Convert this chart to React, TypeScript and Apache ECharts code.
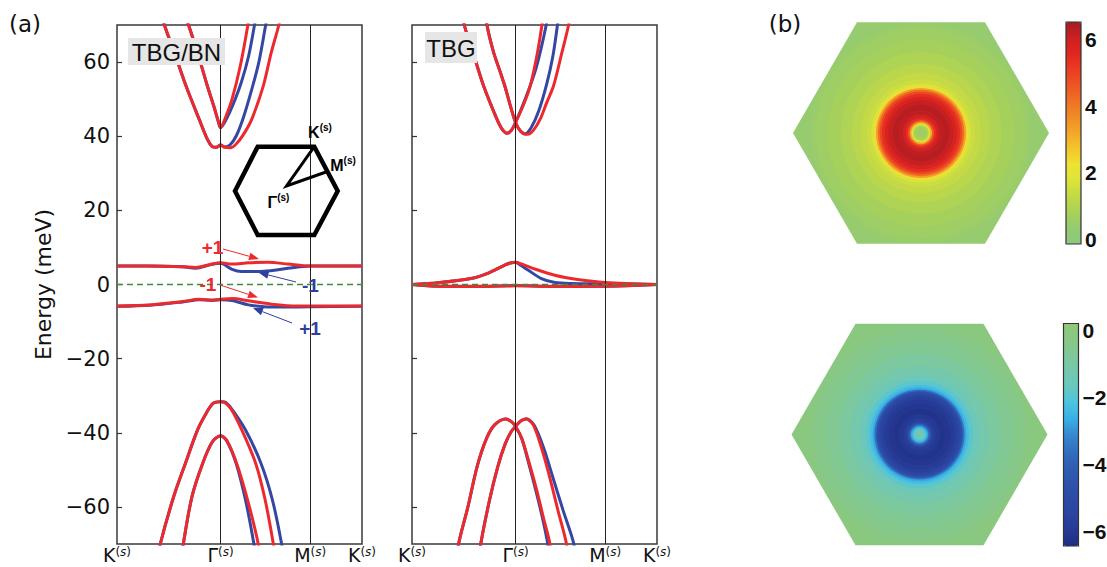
import React, { useEffect, useRef } from 'react';
import * as echarts from 'echarts';

// ---------- axis ticks / labels ----------
const K_TICKS = [0, 1, 1.866, 2.366];
const K_LABELS = ['K', 'Γ', 'M', 'K'];
const E_TICKS = [-60, -40, -20, 0, 20, 40, 60];
const CB_TOP_TICKS = [0, 2, 4, 6];
const CB_BOT_TICKS = [-6, -4, -2, 0];

// ---------- TBG/BN bands [k, E(meV)] ----------
const bnCondRedInner = [[0.62, 76], [0.691, 70], [0.777, 62.6], [0.872, 53.6], [0.936, 48], [0.975, 44.3], [1.0, 42.3], [1.04, 44.5], [1.111, 50], [1.191, 59], [1.264, 70], [1.29, 75]];
const bnCondBlueInner = [[0.62, 76], [0.691, 70], [0.777, 62.6], [0.872, 53.6], [0.936, 48], [0.975, 44.3], [1.0, 42.3], [1.05, 44.3], [1.12, 48.5], [1.2, 54.5], [1.27, 61.5], [1.328, 70], [1.36, 75]];
const bnCondRedOuter = [[0.4, 76], [0.458, 70], [0.554, 62.6], [0.666, 53.6], [0.793, 44.6], [0.872, 39.2], [0.92, 37.2], [0.96, 37.0], [1.0, 37.6], [1.04, 37.0], [1.1, 36.9], [1.17, 38.5], [1.24, 41.3], [1.302, 44.6], [1.413, 53.6], [1.49, 62.6], [1.563, 70], [1.6, 75]];
const bnCondBlueOuter = [[0.4, 76], [0.458, 70], [0.554, 62.6], [0.666, 53.6], [0.793, 44.6], [0.872, 39.2], [0.92, 37.2], [0.96, 37.0], [1.0, 37.6], [1.04, 37.1], [1.09, 37.6], [1.15, 40], [1.22, 45], [1.3, 52.5], [1.37, 60], [1.436, 70], [1.47, 75]];
const bnValRedOuter = [[0.38, -76], [0.418, -70], [0.55, -57], [0.661, -48.2], [0.778, -39.2], [0.862, -34.7], [0.93, -32], [1.0, -31.6], [1.04, -31.8], [1.1, -33.5], [1.205, -39.2], [1.339, -48.2], [1.43, -58], [1.51, -70], [1.54, -76]];
const bnValBlueOuter = [[0.38, -76], [0.418, -70], [0.55, -57], [0.661, -48.2], [0.778, -39.2], [0.862, -34.7], [0.93, -32], [1.0, -31.6], [1.04, -31.7], [1.1, -33.3], [1.24, -39.2], [1.39, -48.2], [1.5, -58], [1.59, -70], [1.62, -76]];
const bnValRedInner = [[0.61, -76], [0.64, -70], [0.724, -57.2], [0.828, -48.2], [0.92, -42.5], [1.0, -40.8], [1.06, -42], [1.155, -48.2], [1.26, -58], [1.364, -70], [1.39, -76]];
const bnValBlueInner = [[0.61, -76], [0.64, -70], [0.724, -57.2], [0.828, -48.2], [0.92, -42.5], [1.0, -40.8], [1.06, -42.2], [1.15, -48.2], [1.24, -58], [1.322, -70], [1.35, -76]];
const bnFlatUpRed = [[0, 5.0], [0.3, 5.0], [0.634, 4.8], [0.761, 4.6], [0.898, 5.4], [1.0, 5.85], [1.111, 5.5], [1.27, 5.85], [1.461, 6.0], [1.652, 5.5], [1.866, 5.0], [2.366, 5.0]];
const bnFlatUpBlue = [[0, 5.0], [0.3, 5.0], [0.634, 4.8], [0.761, 4.4], [0.898, 5.3], [1.0, 5.7], [1.111, 4.1], [1.2, 3.5], [1.42, 3.6], [1.65, 4.36], [1.866, 5.0], [2.366, 5.0]];
const bnFlatLoRed = [[0, -5.8], [0.315, -5.5], [0.634, -4.6], [0.795, -4.0], [0.92, -4.2], [1.0, -4.0], [1.111, -3.8], [1.27, -4.4], [1.493, -5.3], [1.748, -5.8], [1.866, -5.8], [2.366, -5.8]];
const bnFlatLoBlue = [[0, -5.9], [0.315, -5.6], [0.634, -4.7], [0.795, -4.1], [0.92, -4.3], [1.0, -4.1], [1.111, -4.3], [1.27, -5.5], [1.42, -6.0], [1.59, -6.1], [1.866, -6.0], [2.366, -5.9]];

// ---------- TBG bands ----------
const tbgCondRed1 = [[0.47, 76], [0.505, 70], [0.589, 62.6], [0.691, 53.6], [0.82, 44.6], [0.87, 41.9], [0.917, 40.8], [0.96, 41.6], [1.0, 43.7], [1.07, 48], [1.142, 53.6], [1.212, 62.6], [1.255, 70], [1.28, 75]];
const tbgCondBlue1 = [[0.47, 76], [0.505, 70], [0.589, 62.6], [0.691, 53.6], [0.82, 44.6], [0.87, 41.9], [0.917, 40.8], [0.96, 41.6], [1.0, 43.7], [1.1, 50.5], [1.2, 58.5], [1.296, 70], [1.32, 75]];
const tbgCondRed2 = [[0.7, 76], [0.724, 70], [0.788, 62.6], [0.85, 57.5], [0.9, 53.2], [0.95, 48.2], [1.0, 43.7], [1.05, 41.3], [1.116, 40.5], [1.17, 41.5], [1.238, 44.6], [1.3, 49], [1.367, 53.6], [1.448, 62.6], [1.512, 70], [1.54, 75]];
const tbgCondBlue2 = [[0.7, 76], [0.724, 70], [0.788, 62.6], [0.85, 57.5], [0.9, 53.2], [0.95, 48.2], [1.0, 43.7], [1.05, 41.3], [1.09, 40.6], [1.15, 42.3], [1.22, 46.5], [1.3, 54], [1.36, 61.5], [1.405, 70], [1.43, 75]];
const tbgValRed1 = [[0.43, -76], [0.45, -70], [0.54, -60], [0.63, -49], [0.72, -41.5], [0.8, -37.8], [0.903, -36.3], [0.96, -37], [1.0, -38.3], [1.06, -41.5], [1.12, -47], [1.2, -55], [1.27, -63], [1.332, -70], [1.35, -76]];
const tbgValBlue1 = [[0.43, -76], [0.45, -70], [0.54, -60], [0.63, -49], [0.72, -41.5], [0.8, -37.8], [0.903, -36.3], [0.96, -37], [1.0, -38.3], [1.06, -41.6], [1.12, -47.5], [1.2, -56], [1.26, -63], [1.311, -70], [1.33, -76]];
const tbgValRed2 = [[0.64, -76], [0.664, -70], [0.75, -58], [0.83, -49], [0.9, -43], [0.96, -39.6], [1.0, -38.3], [1.05, -36.8], [1.105, -36.3], [1.17, -37.8], [1.25, -44], [1.33, -52], [1.41, -61], [1.492, -70], [1.51, -76]];
const tbgValBlue2 = [[0.64, -76], [0.664, -70], [0.75, -58], [0.83, -49], [0.9, -43], [0.96, -39.6], [1.0, -38.3], [1.05, -36.8], [1.105, -36.2], [1.18, -38], [1.27, -44], [1.36, -52], [1.46, -61], [1.563, -70], [1.58, -76]];
const tbgFlatUpRed = [[0, 0], [0.25, 0.45], [0.57, 1.6], [0.73, 3.0], [0.9, 5.3], [0.95, 5.8], [1.0, 6.0], [1.05, 5.6], [1.154, 4.5], [1.38, 2.5], [1.6, 1.35], [1.866, 0.54], [2.366, 0]];
const tbgFlatUpBlue = [[0, 0], [0.25, 0.45], [0.57, 1.6], [0.73, 3.0], [0.9, 5.3], [0.95, 5.8], [1.0, 6.0], [1.05, 5.2], [1.12, 3.9], [1.25, 1.6], [1.38, 0.54], [1.54, 0.27], [1.866, 0.2], [2.366, 0]];
const tbgFlatLoRed = [[0, 0], [0.25, -0.5], [0.6, -0.55], [1.0, -0.35], [1.4, -0.55], [1.866, -0.5], [2.366, 0]];
const tbgFlatLoBlue = [[0, 0], [0.25, -0.45], [0.6, -0.5], [1.0, -0.3], [1.4, -0.5], [1.866, -0.45], [2.366, 0]];

// ---------- Berry curvature radial profiles (r in units of BZ corner distance) ----------
const topRadius = [0, 0.035, 0.055, 0.068, 0.08, 0.095, 0.11, 0.13, 0.16, 0.2, 0.24, 0.27, 0.295, 0.315, 0.33, 0.345, 0.36, 0.375, 0.4, 0.44, 0.5, 0.58, 0.68, 0.78, 0.86];
const topValue = [0.5, 0.6, 0.9, 1.8, 3.2, 4.6, 5.4, 5.9, 6.2, 6.3, 6.1, 5.8, 5.4, 4.9, 4.2, 3.3, 2.3, 1.7, 1.45, 1.3, 1.1, 0.92, 0.72, 0.56, 0.45];
const topEdgeValue = 0.35;
const botRadius = [0, 0.035, 0.05, 0.062, 0.075, 0.09, 0.11, 0.14, 0.18, 0.22, 0.26, 0.29, 0.31, 0.33, 0.345, 0.36, 0.375, 0.4, 0.44, 0.5, 0.58, 0.68, 0.78, 0.86];
const botValue = [-1.3, -1.5, -2.2, -2.8, -3.8, -5.0, -5.7, -6.0, -6.2, -6.1, -5.9, -5.6, -5.3, -4.8, -3.6, -2.7, -2.3, -1.9, -1.5, -1.15, -0.85, -0.55, -0.35, -0.2];
const botEdgeValue = -0.08;

const TOP_RANGE = [-0.15, 6.53];
const BOT_RANGE = [-6.43, 0.22];
const TOP_COLORS = ['#8cc97b', '#95cb70', '#a9d158', '#c3d946', '#dde43a', '#efe234', '#f4c62c', '#f3a729', '#f18c26', '#ef7124', '#ed5624', '#ea3d22', '#e22620', '#cb2022', '#a51c21'];
const BOT_COLORS = ['#1f2d84', '#263a95', '#2a449f', '#2b4ba6', '#2d54ad', '#2f5eb5', '#3270c0', '#3688d0', '#38b0e6', '#4cc4e0', '#68c8bf', '#74c8ad', '#7fc89a', '#88c885', '#90c876'];

const RED = '#ec2a2e';
const BLUE = '#3447a3';
const BLUE_TXT = '#2e3f9e';
const SANS = 'DejaVu Sans';
const ARIAL = 'Liberation Sans';

const fmtMinus = (v: number) => (v < 0 ? '\u2212' + Math.abs(v) : String(v));

function kLabel(v: number) {
  let idx = 0;
  let best = 1e9;
  K_TICKS.forEach((t, i) => {
    if (Math.abs(t - v) < best) { best = Math.abs(t - v); idx = i; }
  });
  return `{m|${K_LABELS[idx]}}{p|(}{i|s}{p|)}`;
}

const kRich = {
  m: { fontSize: 19, fontFamily: SANS, color: '#111', lineHeight: 18, verticalAlign: 'bottom' },
  p: { fontSize: 12, fontFamily: SANS, color: '#111', verticalAlign: 'top', lineHeight: 18 },
  i: { fontSize: 12, fontFamily: SANS, color: '#111', fontStyle: 'italic', verticalAlign: 'top', lineHeight: 18 },
};

function ringData(radii: number[], vals: number[]) {
  // disks drawn from outside to inside
  const items = radii.map((r, i) => {
    const outer = i === radii.length - 1 ? r : (r + radii[i + 1]) / 2;
    return [outer, 0, vals[i]];
  });
  return items.reverse();
}

function arrowEls(from: number[], to: number[], color: string) {
  const [x1, y1] = from;
  const [x2, y2] = to;
  const a = Math.atan2(y2 - y1, x2 - x1);
  const L = 10, W = 3.8;
  const bx = x2 - L * Math.cos(a);
  const by = y2 - L * Math.sin(a);
  return [
    { type: 'line', shape: { x1, y1, x2: bx, y2: by }, style: { stroke: color, lineWidth: 1 }, z: 100 },
    {
      type: 'polygon',
      shape: { points: [[x2, y2], [bx + W * Math.sin(a), by - W * Math.cos(a)], [bx - W * Math.sin(a), by + W * Math.cos(a)]] },
      style: { fill: color },
      z: 100,
    },
  ];
}

function txt(text: string, x: number, y: number, fontSize: number, fill: string, extra: any = {}) {
  return {
    type: 'text',
    x,
    y,
    z: 101,
    style: {
      text,
      fontSize,
      fontFamily: extra.fontFamily || ARIAL,
      fontWeight: extra.fontWeight || 'normal',
      fill,
      align: extra.align || 'center',
      textAlign: extra.align || 'center',
      verticalAlign: 'middle',
      textVerticalAlign: 'middle',
      rich: extra.rich,
    },
  };
}

const ANNOTS = [
  { text: '+1', color: RED, tx: 212.5, ty: 247.5, from: [223, 249], to: [259, 259] },
  { text: '-1', color: RED, tx: 208, ty: 284.5, from: [220, 285], to: [258, 297.5] },
  { text: '-1', color: BLUE_TXT, tx: 310.5, ty: 285.5, from: [296, 282], to: [258.5, 272.5] },
  { text: '+1', color: BLUE_TXT, tx: 310, ty: 328.5, from: [292, 323], to: [253, 308] },
];

const INSET_HEX = [[257.7, 146.7], [314.3, 146.7], [337.7, 191], [314.3, 235], [257.7, 235], [235, 191]];

export default function App() {
  const ref = useRef<HTMLDivElement>(null);

  useEffect(() => {
    if (!ref.current) return;
    const chart = echarts.init(ref.current, undefined, { renderer: 'svg' });

    const bandGrid = (left: number) => ({
      left, top: 25, width: 245, height: 519, show: true, borderColor: '#3a3a3a', borderWidth: 1.5,
      backgroundColor: 'transparent', containLabel: false, outerBoundsMode: 'none',
    });
    const plainGrid = (left: number, top: number, w: number, h: number) => ({
      left, top, width: w, height: h, show: false, containLabel: false, outerBoundsMode: 'none',
    });

    const xBand = (g: number) => ({
      type: 'value', gridIndex: g, min: 0, max: 2.366,
      axisLine: { show: false }, axisTick: { show: false }, splitLine: { show: false },
      axisLabel: {
        show: true, customValues: K_TICKS, formatter: (v: number) => kLabel(v), margin: 2, rich: kRich,
        showMinLabel: true, showMaxLabel: true,
      },
    });
    const yBand = (g: number, labels: boolean) => ({
      type: 'value', gridIndex: g, min: -70, max: 70,
      axisLine: { show: false },
      splitLine: { show: false },
      axisTick: { show: true, inside: true, length: 5, customValues: E_TICKS, lineStyle: { color: '#333', width: 1.2 } },
      axisLabel: {
        show: labels, customValues: E_TICKS, formatter: fmtMinus, fontSize: 21, fontFamily: SANS, color: '#111', margin: 7,
      },
      name: labels ? 'Energy (meV)' : '',
      nameLocation: 'middle',
      nameGap: 63,
      nameTextStyle: { fontSize: 22, fontFamily: SANS, color: '#111' },
    });
    const hidden = (g: number, min: number, max: number) => ({ type: 'value', gridIndex: g, min, max, show: false });

    const band = (data: number[][], color: string, g: number) => ({
      type: 'line', xAxisIndex: g, yAxisIndex: g, data, smooth: 0.3, showSymbol: false, symbol: 'none',
      lineStyle: { width: 3, color }, itemStyle: { color }, clip: true, silent: true, z: 3,
    });
    const helper = (g: number) => ({
      type: 'line', xAxisIndex: g, yAxisIndex: g, data: [[0, 0]], symbol: 'none', showSymbol: false,
      lineStyle: { opacity: 0 }, silent: true, z: 2,
      markLine: {
        silent: true, symbol: 'none', label: { show: false }, animation: false,
        data: [
          { xAxis: 1, lineStyle: { color: '#222', width: 1, type: 'solid' } },
          { xAxis: 1.866, lineStyle: { color: '#222', width: 1, type: 'solid' } },
          { yAxis: 0, lineStyle: { color: '#3d8b3d', width: 1.3, type: [6, 4] } },
        ],
      },
    });

    const hexRender = (params: any, api: any) => {
      const pts = [0, 60, 120, 180, 240, 300].map((d) => {
        const a = (d * Math.PI) / 180;
        return api.coord([Math.cos(a), Math.sin(a)]);
      });
      return { type: 'polygon', shape: { points: pts }, style: { fill: api.visual('color') } };
    };
    const diskRender = (params: any, api: any) => {
      const c = api.coord([0, 0]);
      const r = api.size([api.value(0), 0])[0];
      return { type: 'circle', shape: { cx: c[0], cy: c[1], r }, style: { fill: api.visual('color') } };
    };

    const series: any[] = [
      helper(0),
      band(bnCondBlueInner, BLUE, 0), band(bnCondBlueOuter, BLUE, 0),
      band(bnValBlueOuter, BLUE, 0), band(bnValBlueInner, BLUE, 0),
      band(bnFlatUpBlue, BLUE, 0), band(bnFlatLoBlue, BLUE, 0),
      band(bnCondRedInner, RED, 0), band(bnCondRedOuter, RED, 0),
      band(bnValRedOuter, RED, 0), band(bnValRedInner, RED, 0),
      band(bnFlatUpRed, RED, 0), band(bnFlatLoRed, RED, 0),
      helper(1),
      band(tbgCondBlue1, BLUE, 1), band(tbgCondBlue2, BLUE, 1),
      band(tbgValBlue1, BLUE, 1), band(tbgValBlue2, BLUE, 1),
      band(tbgFlatUpBlue, BLUE, 1), band(tbgFlatLoBlue, BLUE, 1),
      band(tbgCondRed1, RED, 1), band(tbgCondRed2, RED, 1),
      band(tbgValRed1, RED, 1), band(tbgValRed2, RED, 1),
      band(tbgFlatUpRed, RED, 1), band(tbgFlatLoRed, RED, 1),
    ];
    const topHexIdx = series.length;
    series.push({ type: 'custom', xAxisIndex: 2, yAxisIndex: 2, data: [[0, 0, topEdgeValue]], renderItem: hexRender, silent: true, z: 1 });
    const topRingIdx = series.length;
    series.push({ type: 'custom', xAxisIndex: 2, yAxisIndex: 2, data: ringData(topRadius, topValue), renderItem: diskRender, silent: true, z: 2 });
    const botHexIdx = series.length;
    series.push({ type: 'custom', xAxisIndex: 3, yAxisIndex: 3, data: [[0, 0, botEdgeValue]], renderItem: hexRender, silent: true, z: 1 });
    const botRingIdx = series.length;
    series.push({ type: 'custom', xAxisIndex: 3, yAxisIndex: 3, data: ringData(botRadius, botValue), renderItem: diskRender, silent: true, z: 2 });

    const cbAxis = (g: number, range: number[], ticks: number[]) => ({
      type: 'value', gridIndex: g, min: range[0], max: range[1], position: 'right',
      axisLine: { show: false }, splitLine: { show: false },
      axisTick: { show: true, inside: false, length: 3, customValues: ticks, lineStyle: { color: '#333', width: 1.2 } },
      axisLabel: {
        show: true, customValues: ticks, formatter: fmtMinus, fontSize: 21, fontWeight: 'bold',
        fontFamily: ARIAL, color: '#111', margin: 4,
      },
    });

    const insetRich = {
      b: { fontSize: 16, fontWeight: 'bold', fontFamily: ARIAL, verticalAlign: 'bottom', lineHeight: 18 },
      s: { fontSize: 10, fontWeight: 'bold', fontFamily: ARIAL, verticalAlign: 'top', lineHeight: 18 },
    };

    const graphics: any[] = [
      txt('(a)', 25, 24, 23, '#111', { fontFamily: SANS }),
      txt('(b)', 785, 24, 23, '#111', { fontFamily: SANS }),
      { type: 'rect', shape: { x: 128, y: 38, width: 97, height: 27 }, style: { fill: '#e6e6e6' }, z: 99 },
      txt('TBG/BN', 176.5, 52, 24, '#111'),
      { type: 'rect', shape: { x: 425, y: 32, width: 52, height: 31 }, style: { fill: '#e6e6e6' }, z: 99 },
      txt('TBG', 451, 48, 24, '#111'),
      { type: 'polygon', shape: { points: INSET_HEX }, style: { fill: 'none', stroke: '#000', lineWidth: 4.5, lineJoin: 'miter' }, z: 100 },
      { type: 'polyline', shape: { points: [[314.3, 146.7], [286.5, 186], [326, 172]] }, style: { fill: 'none', stroke: '#000', lineWidth: 3 }, z: 100 },
      txt('{b|K}{s|(s)}', 320, 131, 15, '#000', { rich: insetRich }),
      txt('{b|M}{s|(s)}', 343, 164, 15, '#000', { rich: insetRich }),
      txt('{b|Γ}{s|(s)}', 278.5, 201, 15, '#000', { rich: insetRich }),
      { type: 'rect', shape: { x: 1066, y: 22, width: 15, height: 222 }, style: { fill: 'none', stroke: '#333', lineWidth: 1.2 }, z: 100 },
      { type: 'rect', shape: { x: 1063.5, y: 323.5, width: 15, height: 222.5 }, style: { fill: 'none', stroke: '#333', lineWidth: 1.2 }, z: 100 },
    ];
    ANNOTS.forEach((an) => {
      graphics.push(...arrowEls(an.from, an.to, an.color));
      graphics.push(txt(an.text, an.tx, an.ty, 19, an.color, { fontWeight: 'bold' }));
    });

    chart.setOption({
      animation: false,
      backgroundColor: '#ffffff',
      grid: [
        bandGrid(117),
        bandGrid(412),
        plainGrid(793, 5, 256, 256),
        plainGrid(791.5, 306.5, 256, 256),
        plainGrid(1066, 22, 15, 222),
        plainGrid(1063.5, 323.5, 15, 222.5),
      ],
      xAxis: [xBand(0), xBand(1), hidden(2, -1, 1), hidden(3, -1, 1), hidden(4, 0, 1), hidden(5, 0, 1)],
      yAxis: [yBand(0, true), yBand(1, false), hidden(2, -1, 1), hidden(3, -1, 1), cbAxis(4, TOP_RANGE, CB_TOP_TICKS), cbAxis(5, BOT_RANGE, CB_BOT_TICKS)],
      visualMap: [
        {
          type: 'continuous', seriesIndex: [topHexIdx, topRingIdx], dimension: 2,
          min: TOP_RANGE[0], max: TOP_RANGE[1], inRange: { color: TOP_COLORS },
          show: true, orient: 'vertical', left: 1066, top: 22, itemWidth: 15, itemHeight: 222,
          padding: 0, calculable: false, hoverLink: false, text: null, realtime: false,
        },
        {
          type: 'continuous', seriesIndex: [botHexIdx, botRingIdx], dimension: 2,
          min: BOT_RANGE[0], max: BOT_RANGE[1], inRange: { color: BOT_COLORS },
          show: true, orient: 'vertical', left: 1063.5, top: 323.5, itemWidth: 15, itemHeight: 222.5,
          padding: 0, calculable: false, hoverLink: false, text: null, realtime: false,
        },
      ],
      series,
      graphic: graphics,
    });

    return () => chart.dispose();
  }, []);

  return (
    <div
      ref={ref}
      style={{ position: 'fixed', left: 0, top: 0, width: 1107, height: 567, overflow: 'hidden', background: '#fff' }}
    />
  );
}
